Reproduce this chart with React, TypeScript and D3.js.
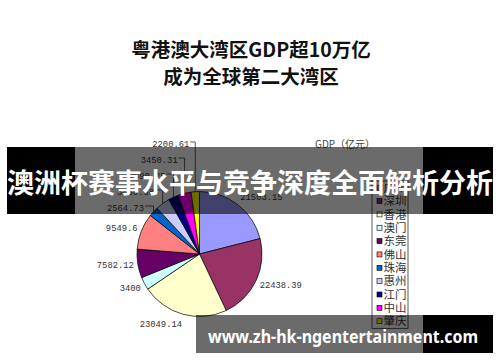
import React from "react";
import * as d3 from "d3";

const regions = ["广州", "深圳", "香港", "澳门", "东莞", "佛山", "珠海", "惠州", "江门", "中山", "肇庆"];
const gdp = [21503.15, 22438.39, 23049.14, 3400, 7582.12, 9549.6, 2564.73, 3830.58, 2690.25, 3450.31, 2200.61];
const sliceColors = ["#9999FF", "#993366", "#FFFFCC", "#CCFFFF", "#660066", "#FF8080", "#0066CC", "#CCCCFF", "#000080", "#FF00FF", "#FFFF00"];
const titleLines = ["粤港澳大湾区GDP超10万亿", "成为全球第二大湾区"];
const legendTitle = "GDP（亿元）";
const bannerText = "澳洲杯赛事水平与竞争深度全面解析分析";
const watermarkText = "www.zh-hk-ngentertainment.com";

const W = 500;
const H = 362;
const cx = 199.5;
const cy = 254;
const R = 62.5;

export default function App() {
  const pie = d3.pie<number>().sort(null).value((d) => d)(gdp);
  const arc = d3.arc<d3.PieArcDatum<number>>().innerRadius(0).outerRadius(R);
  const n = gdp.length;
  const leaderStart = (300 * Math.PI) / 180;

  const labelEls = pie.map((p, i) => {
    const a = (p.startAngle + p.endAngle) / 2;
    const s = Math.sin(a);
    const c = Math.cos(a);
    const txt = String(gdp[i]);
    if (a > leaderStart) {
      const k = n - 1 - i;
      const px = cx + R * s;
      const py = cy - R * c;
      const ly = Math.min(py - 2, 144 + 16 * k);
      const endX = px - 6 - 0.9 * k;
      return (
        <g key={"l" + i}>
          <text x={endX} y={ly + 3} textAnchor="end" fontFamily="Liberation Mono, monospace" fontSize={8.8} fill="#333">
            {txt}
          </text>
          <path d={`M${endX + 1},${ly - 2}H${px}V${py}`} fill="none" stroke="#333" strokeWidth={0.8} />
        </g>
      );
    }
    const RL = 66.5;
    const px = cx + RL * s;
    const py = cy - RL * c;
    return (
      <text
        key={"l" + i}
        x={px}
        y={py - c * 6 + 3}
        textAnchor={s < 0 ? "end" : "start"}
        fontFamily="Liberation Mono, monospace"
        fontSize={8.8}
        fill="#333"
      >
        {txt}
      </text>
    );
  });

  const legX = 372;
  const legTop = 181;
  const rowH = 13.35;
  const legBottom = legTop + rowH * n + 0.5;

  return (
    <svg width={W} height={H} style={{ position: "absolute", left: 0, top: 0, display: "block" }}>
      <rect x={0} y={0} width={W} height={H} fill="#fff" />
      {titleLines.map((t, i) => (
        <text
          key={t}
          x={251}
          y={56.5 + i * 27.5}
          textAnchor="middle"
          fontFamily="Noto Sans CJK SC"
          fontWeight={700}
          fontSize={19.5}
          fill="#111"
        >
          {t}
        </text>
      ))}
      <g transform={`translate(${cx},${cy})`}>
        {pie.map((p, i) => (
          <path key={regions[i]} d={arc(p) || ""} fill={sliceColors[i]} stroke="#000" strokeWidth={0.7} />
        ))}
      </g>
      {labelEls}
      <text x={315} y={148} fontFamily="Noto Sans CJK SC" fontSize={10} fill="#444">
        {legendTitle}
      </text>
      <rect x={legX} y={legTop} width={36} height={legBottom - legTop} fill="#fff" stroke="#333" strokeWidth={0.8} />
      {regions.map((r, i) => {
        const y = legTop + 6.7 + rowH * i;
        return (
          <g key={"lg" + r}>
            <rect x={377} y={y - 2.5} width={5} height={5} fill={sliceColors[i]} stroke="#000" strokeWidth={0.6} />
            <text x={383.5} y={y + 4.2} fontFamily="Noto Sans CJK SC" fontSize={11.5} fill="#333">
              {r}
            </text>
          </g>
        );
      })}
      {/* banner */}
      <rect x={7} y={147} width={68} height={67} fill="#000" />
      <rect x={75} y={147} width={348} height={67} fill="#000" opacity={0.58} />
      <rect x={423} y={147} width={70} height={67} fill="#000" />
      <text
        x={250}
        y={193}
        textAnchor="middle"
        fontFamily="Noto Sans CJK SC"
        fontWeight={700}
        fontSize={27}
        fill="#fff"
        textLength={486}
        lengthAdjust="spacingAndGlyphs"
      >
        {bannerText}
      </text>
      {/* watermark */}
      <rect x={196} y={315} width={227} height={38} fill="#000" opacity={0.58} />
      <rect x={423} y={315} width={70} height={38} fill="#000" />
      <text
        x={208}
        y={342.5}
        fontFamily="Noto Sans"
        fontWeight={700}
        fontSize={18}
        fill="#fff"
        textLength={270}
        lengthAdjust="spacingAndGlyphs"
      >
        {watermarkText}
      </text>
    </svg>
  );
}
